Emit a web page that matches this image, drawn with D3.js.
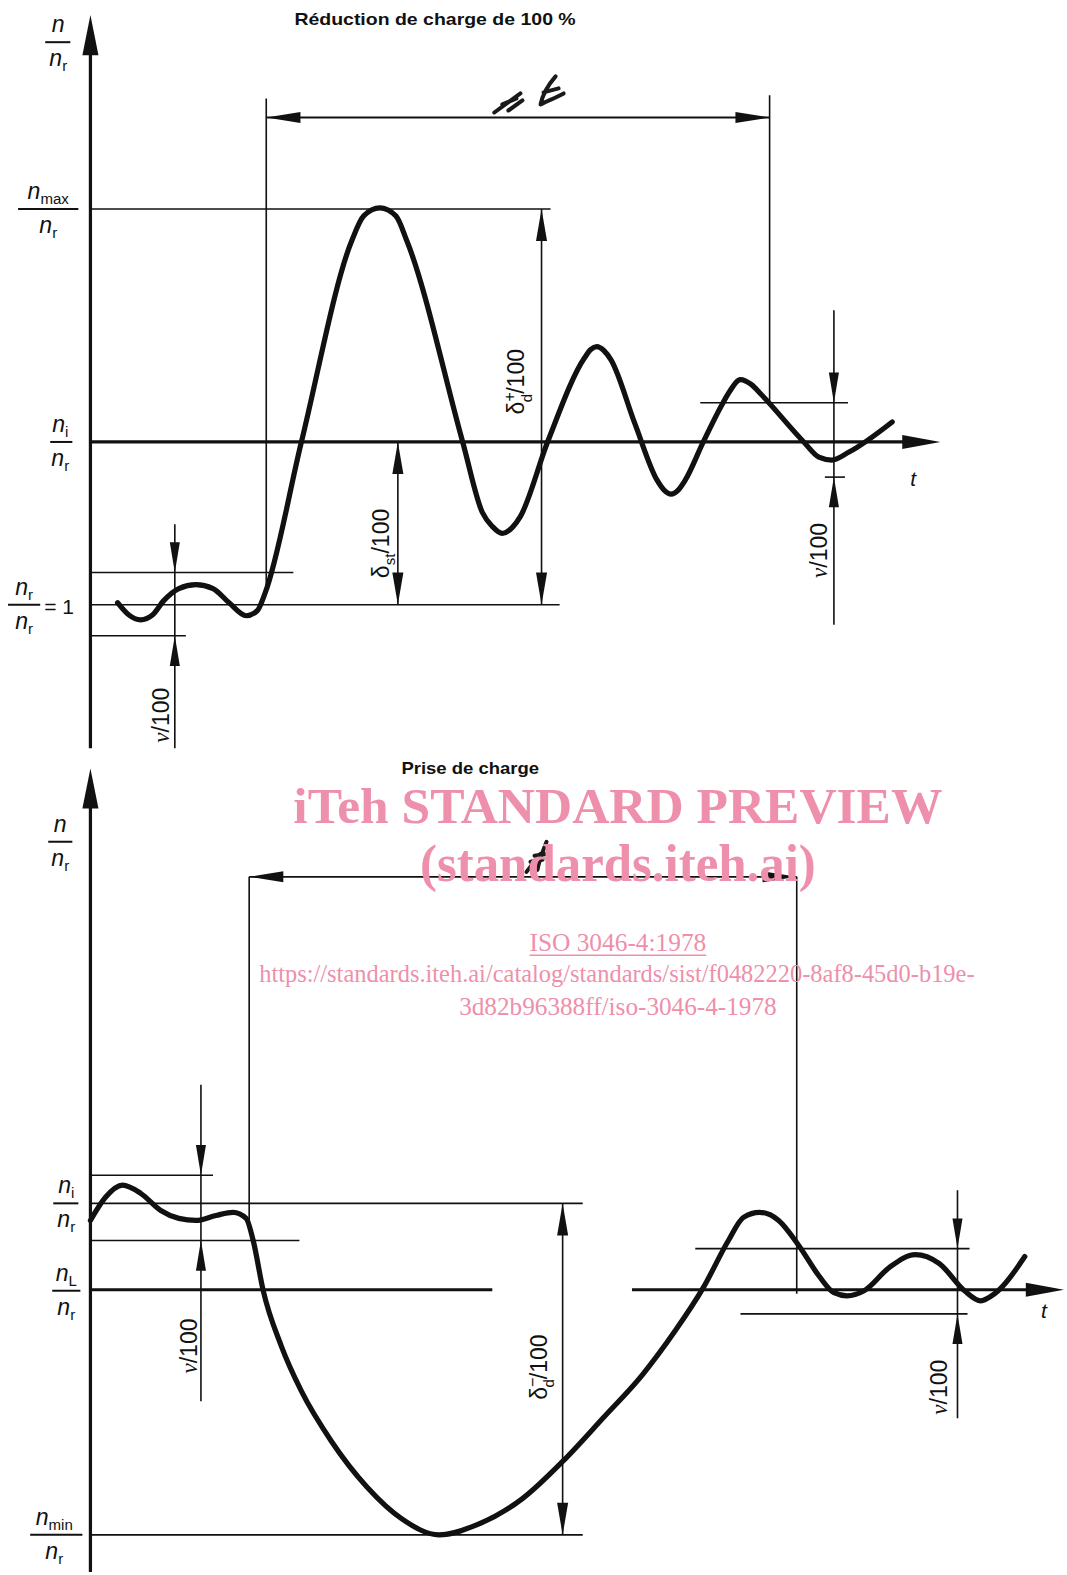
<!DOCTYPE html>
<html>
<head>
<meta charset="utf-8">
<script src="https://cdn.jsdelivr.net/npm/d3@7"></script>
<style>
body { margin: 0; background: #fff; }
svg { display: block; }
text { font-family: "Liberation Sans", Arial, sans-serif; fill: #111; }
</style>
</head>
<body>
<svg id="fig" width="1067" height="1575"></svg>
<script>
// time t in arbitrary units, speed as n / n_r

// --- upper figure : load rejection (100 %)
var topCurve = [
	[0.54, 1.0012], [0.76, 0.9938], [1.0, 0.9907], [1.24, 0.9938], [1.46, 1.0025],
	[1.76, 1.0099], [2.1, 1.0123], [2.44, 1.0099], [2.76, 1.0012], [3.1, 0.9932],
	[3.32, 0.9963], [3.48, 1.0074], [4.2, 1.1], [5.2, 1.2235], [5.44, 1.2389],
	[5.76, 1.2438], [6.08, 1.2389], [6.3, 1.2235], [7.41, 1.1], [7.8, 1.0568],
	[8.0, 1.0481], [8.2, 1.0438], [8.4, 1.0475], [8.56, 1.0543], [9.1, 1.1],
	[9.84, 1.1519], [9.96, 1.1568], [10.08, 1.1586], [10.22, 1.1562], [10.36, 1.1506],
	[10.84, 1.1111], [11.28, 1.0765], [11.42, 1.0704], [11.56, 1.0679], [11.7, 1.0704],
	[11.84, 1.0765], [12.2, 1.1], [12.56, 1.1222], [12.72, 1.1309], [12.94, 1.1383],
	[13.16, 1.1352], [13.34, 1.1296], [14.2, 1.1], [14.5, 1.0907], [14.76, 1.0889],
	[15.1, 1.0938], [15.96, 1.1123]
];
// [t start, t end, n/nr]
var topRefLines = [
	[0, 9.16, 1.2432],  // n_max
	[0, 4.04, 1.0198],  // +v band
	[0, 1.9, 0.9809],   // -v band
	[0, 9.34, 1.0],     // n_r
	[12.14, 15.08, 1.1241],
	[14.62, 15.02, 1.0784]
];
var topAxisT = [0, 16.92, 1.1];
// [t, n top, n bottom]
var topExtLines = [[3.5, 1.3111, 1.0074], [13.52, 1.313, 1.1241]];
var topSpan = [3.5, 13.52, 1.2994];
// dimension with arrows pointing out : [t, n high, n low]
var topDimsIn = [[8.98, 1.2432, 1.0], [6.12, 1.1, 1.0]];
// dimension with arrows pointing in : [t, line top, tip high, tip low, line bottom]
var topDimsOut = [[1.68, 1.0494, 1.0198, 0.9809, 0.9117], [14.8, 1.1809, 1.1241, 1.0784, 0.9877]];

// --- lower figure : load acceptance
var botCurve = [
	[0, 1.0401], [0.3, 1.0535], [0.64, 1.0605], [1.0, 1.0558], [1.4, 1.0459],
	[1.76, 1.0413], [2.1, 1.0401], [2.5, 1.043], [2.84, 1.0448], [3.1, 1.0413],
	[3.24, 1.0285], [3.44, 0.9994], [3.8, 0.9674], [4.2, 0.9413], [4.8, 0.9122],
	[5.5, 0.886], [6.2, 0.8674], [6.94, 0.8581], [7.7, 0.864], [8.6, 0.8791],
	[9.4, 0.9006], [10.2, 0.9256], [11.0, 0.9512], [11.64, 0.9762], [12.2, 1.0012],
	[12.7, 1.0285], [13.0, 1.0419], [13.32, 1.0448], [13.7, 1.0401], [14.1, 1.0256],
	[14.5, 1.0081], [14.8, 0.9983], [15.06, 0.9965], [15.4, 0.9994], [15.9, 1.0128],
	[16.42, 1.0203], [16.9, 1.0151], [17.4, 0.9994], [17.72, 0.9936], [18.0, 0.9977],
	[18.6, 1.0192]
];
var botRefLines = [
	[0, 9.8, 1.05],     // n_i
	[0, 2.44, 1.0663],
	[0, 4.16, 1.0285],
	[0, 9.8, 0.8581],   // n_min
	[12.04, 17.5, 1.0238],
	[12.94, 17.46, 0.986]
];
var botNL = [0, 8.0, 1.0];
var botAxisT = [10.78, 19.38, 1.0];
var botExtLines = [[3.16, 1.239, 1.0401], [14.06, 1.239, 0.9977]];
var botSpan = [3.16, 14.06, 1.239];
var botDimsIn = [[9.4, 1.05, 0.8581]];
var botDimsOut = [[2.2, 1.1186, 1.0663, 1.0285, 0.9355], [17.26, 1.0576, 1.0238, 0.986, 0.9256]];

var svg = d3.select("#fig");
svg.append("rect").attr("width", 1067).attr("height", 1575).attr("fill", "#fff");
var root = svg.append("g").attr("transform", "scale(" + (1067 / 1062) + "," + (1575 / 1568) + ")");

var x = d3.scaleLinear().domain([0, 20]).range([90, 1090]);
var yTop = d3.scaleLinear().domain([1, 1.1]).range([602, 440]);
var yBot = d3.scaleLinear().domain([1, 1.05]).range([1284, 1198]);

var ink = "#111";

// filled arrow head, tip at (px,py)
function arrow(g, px, py, dir, len, hw) {
	var p;
	if (dir == "up") p = [[px, py], [px - hw, py + len], [px + hw, py + len]];
	if (dir == "down") p = [[px, py], [px - hw, py - len], [px + hw, py - len]];
	if (dir == "left") p = [[px, py], [px + len, py - hw], [px + len, py + hw]];
	if (dir == "right") p = [[px, py], [px - len, py - hw], [px - len, py + hw]];
	g.append("path").attr("d", "M" + p.join("L") + "Z").attr("fill", ink);
}

function hline(g, y, d, w) {
	g.append("line")
		.attr("x1", x(d[0])).attr("x2", x(d[1]))
		.attr("y1", y(d[2])).attr("y2", y(d[2]))
		.attr("stroke", ink).attr("stroke-width", w);
}

function vline(g, y, t, a, b, w) {
	g.append("line")
		.attr("x1", x(t)).attr("x2", x(t))
		.attr("y1", y(a)).attr("y2", y(b))
		.attr("stroke", ink).attr("stroke-width", w);
}

function panel(g, y, o) {
	// vertical axis
	g.append("line").attr("x1", x(0)).attr("x2", x(0))
		.attr("y1", o.axisTop + 30).attr("y2", o.axisBottom)
		.attr("stroke", ink).attr("stroke-width", 3.2);
	arrow(g, x(0), o.axisTop, "up", 40, 8);

	o.ref.forEach(function (d) { hline(g, y, d, 1.6); });
	o.ext.forEach(function (d) { vline(g, y, d[0], d[1], d[2], 1.6); });

	// span t between the two verticals
	hline(g, y, [o.span[0], o.span[1], o.span[2]], 1.8);
	arrow(g, x(o.span[0]), y(o.span[2]), "left", 34, 5.5);
	arrow(g, x(o.span[1]), y(o.span[2]), "right", 34, 5.5);

	o.dimsIn.forEach(function (d) {
		vline(g, y, d[0], d[1], d[2], 1.6);
		arrow(g, x(d[0]), y(d[1]), "up", 32, 5.5);
		arrow(g, x(d[0]), y(d[2]), "down", 32, 5.5);
	});
	o.dimsOut.forEach(function (d) {
		vline(g, y, d[0], d[1], d[4], 1.6);
		arrow(g, x(d[0]), y(d[2]), "down", 30, 5);
		arrow(g, x(d[0]), y(d[3]), "up", 30, 5);
	});

	// time axis
	hline(g, y, [o.axisT[0], o.axisT[1] - 0.7, o.axisT[2]], 3.2);
	arrow(g, x(o.axisT[1]), y(o.axisT[2]), "right", 38, 7);

	var line = d3.line()
		.x(function (d) { return x(d[0]); })
		.y(function (d) { return y(d[1]); })
		.curve(d3.curveMonotoneX);
	g.append("path").datum(o.curve).attr("d", line)
		.attr("fill", "none").attr("stroke", ink)
		.attr("stroke-width", 5.2).attr("stroke-linejoin", "round").attr("stroke-linecap", "round");
}

var gTop = root.append("g");
panel(gTop, yTop, {
	axisTop: 15, axisBottom: 745, ref: topRefLines, ext: topExtLines, span: topSpan,
	dimsIn: topDimsIn, dimsOut: topDimsOut, axisT: topAxisT, curve: topCurve
});

var gBot = root.append("g");
panel(gBot, yBot, {
	axisTop: 765, axisBottom: 1565, ref: botRefLines, ext: botExtLines, span: botSpan,
	dimsIn: botDimsIn, dimsOut: botDimsOut, axisT: botAxisT, curve: botCurve
});
hline(gBot, yBot, botNL, 3);

// ---- labels
function frac(g, cx, ly, x1, x2, num, sub) {
	var t = g.append("text").attr("x", cx).attr("y", ly - 10).attr("text-anchor", "middle")
		.style("font-size", "23px");
	t.append("tspan").style("font-style", "italic").text("n");
	if (sub) t.append("tspan").attr("dy", 5).style("font-size", "15px").text(sub);
	var b = g.append("text").attr("x", cx).attr("y", ly + 24).attr("text-anchor", "middle")
		.style("font-size", "23px");
	b.append("tspan").style("font-style", "italic").text("n");
	b.append("tspan").attr("dy", 5).style("font-size", "15px").text("r");
	g.append("line").attr("x1", x1).attr("x2", x2).attr("y1", ly).attr("y2", ly)
		.attr("stroke", ink).attr("stroke-width", 2);
}

frac(root, 58, 42, 45, 70, "n", null);
frac(root, 48, 208, 18, 78, "n", "max");
frac(root, 60, 440, 50, 72, "n", "i");
frac(root, 24, 602, 8, 40, "n", "r");
root.append("text").attr("x", 44).attr("y", 611).style("font-size", "21px").text("= 1");

frac(root, 60, 838, 48, 72, "n", null);
frac(root, 66, 1198, 53, 78, "n", "i");
frac(root, 66, 1285, 52, 80, "n", "L");
frac(root, 54, 1528, 30, 82, "n", "min");

root.append("text").attr("x", 433).attr("y", 25).attr("text-anchor", "middle")
	.style("font-size", "17px").style("font-weight", "bold")
	.attr("textLength", 280).attr("lengthAdjust", "spacingAndGlyphs")
	.text("Réduction de charge de 100 %");
root.append("text").attr("x", 468).attr("y", 771).attr("text-anchor", "middle")
	.style("font-size", "16px").style("font-weight", "bold")
	.attr("textLength", 137).attr("lengthAdjust", "spacingAndGlyphs")
	.text("Prise de charge");

root.append("text").attr("x", 906).attr("y", 484).style("font-size", "21px").style("font-style", "italic").text("t");
root.append("text").attr("x", 1036).attr("y", 1312).style("font-size", "21px").style("font-style", "italic").text("t");

// rotated dimension texts
function rot(cx, cy) {
	return root.append("text").attr("transform", "translate(" + cx + "," + cy + ") rotate(-90)")
		.attr("text-anchor", "middle").style("font-size", "23px");
}
function nu(cx, cy) {
	var t = rot(cx, cy);
	t.append("tspan").style("font-family", "'Liberation Serif', serif").style("font-style", "italic").text("ν");
	t.append("tspan").text("/100");
}
nu(168, 712);
nu(823, 548);
nu(196, 1340);
nu(943, 1381);

var st = rot(387, 541);
st.append("tspan").text("δ");
st.append("tspan").attr("dy", 6).style("font-size", "15px").text("st");
st.append("tspan").attr("dy", -6).text("/100");

var dp = rot(522, 380);
dp.append("tspan").text("δ");
dp.append("tspan").attr("dy", -9).style("font-size", "16px").text("+");
dp.append("tspan").attr("dx", -10).attr("dy", 16).style("font-size", "15px").text("d");
dp.append("tspan").attr("dy", -7).text("/100");

var dm = rot(544, 1361);
dm.append("tspan").text("δ");
dm.append("tspan").attr("dy", -9).style("font-size", "16px").text("−");
dm.append("tspan").attr("dx", -10).attr("dy", 16).style("font-size", "15px").text("d");
dm.append("tspan").attr("dy", -7).text("/100");

// handwritten marks over the span lines
function scribble(d) {
	root.append("path").attr("d", d).attr("fill", "none").attr("stroke", "#1a1a1a")
		.attr("stroke-width", 4).attr("stroke-linecap", "round").attr("stroke-linejoin", "round");
}
scribble("M492,112 L518,93 M500,104 L514,98 M506,110 L520,100");
scribble("M553,76 C546,84 540,94 538,104 C546,100 554,97 561,93 M541,92 L556,88");
scribble("M524,868 L538,850 M528,858 L540,856");
scribble("M544,838 C540,848 536,858 535,866 M532,852 L546,850");

// watermark
var pink = "#ee8fab";
function wm(txt, cx, by, size, len, bold) {
	return root.append("text").attr("x", cx).attr("y", by).attr("text-anchor", "middle")
		.style("font-family", "'Liberation Serif', 'Times New Roman', serif")
		.style("font-size", size + "px").style("font-weight", bold ? "bold" : "normal")
		.style("fill", pink)
		.attr("textLength", len).attr("lengthAdjust", "spacingAndGlyphs")
		.text(txt);
}
wm("iTeh STANDARD PREVIEW", 615, 819, 50, 646, true);
wm("(standards.iteh.ai)", 615, 877, 52, 394, true);
wm("ISO 3046-4:1978", 615, 947, 26, 176, false);
root.append("line").attr("x1", 527).attr("x2", 703).attr("y1", 951).attr("y2", 951)
	.attr("stroke", pink).attr("stroke-width", 1.5);
wm("https://standards.iteh.ai/catalog/standards/sist/f0482220-8af8-45d0-b19e-", 614, 978, 26, 712, false);
wm("3d82b96388ff/iso-3046-4-1978", 615, 1010, 26, 316, false);
</script>
</body>
</html>
